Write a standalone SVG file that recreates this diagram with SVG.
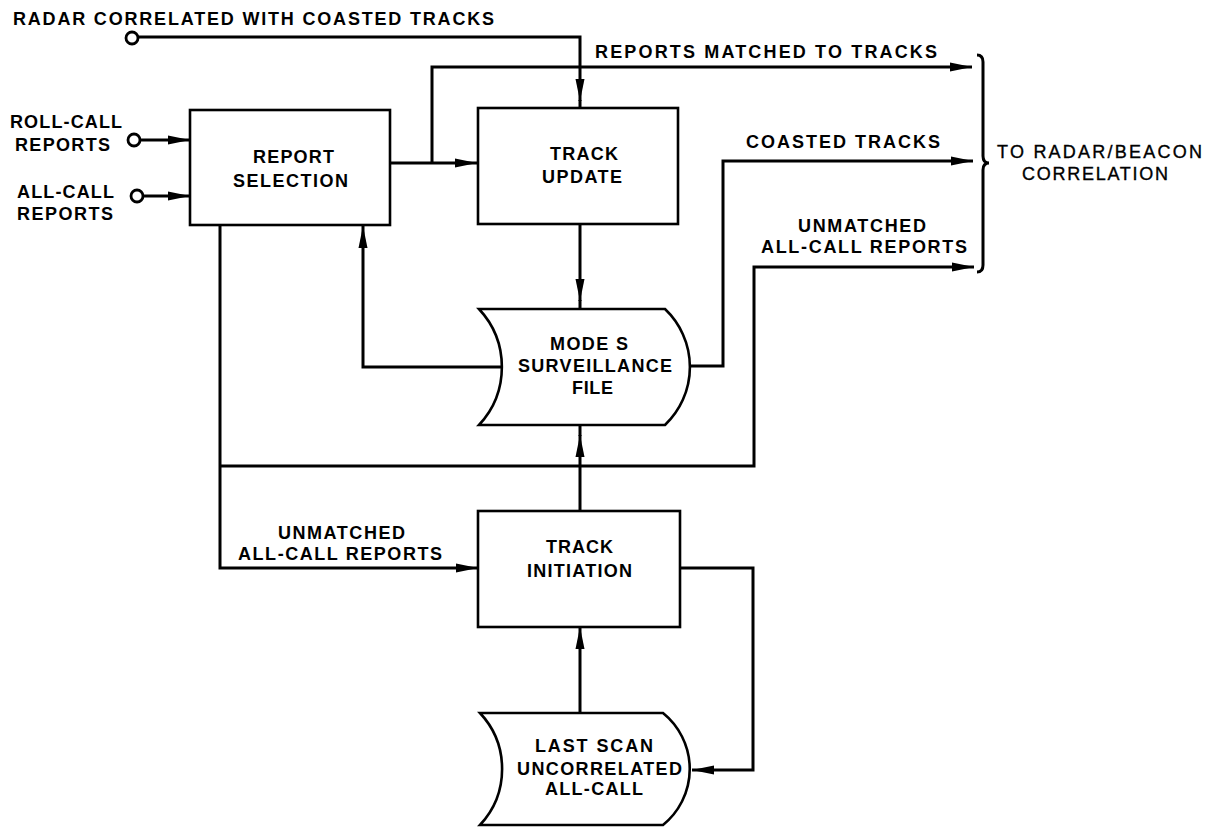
<svg xmlns="http://www.w3.org/2000/svg" width="1216" height="827" viewBox="0 0 1216 827">
<style>
  .bg { fill: #ffffff; }
  .box { fill: #ffffff; stroke: #000; stroke-width: 2.6; }
  .ln { fill: none; stroke: #000; stroke-width: 3; stroke-linejoin: miter; }
  .port { fill: #ffffff; stroke: #000; stroke-width: 2.8; }
  text { font-family: "Liberation Sans", Arial, Helvetica, sans-serif; font-size: 18px; font-weight: bold; fill: #000; }
  text.light { font-weight: normal; stroke: #000; stroke-width: 0.35; }
</style>
<defs>
  <marker id="arr" markerUnits="userSpaceOnUse" markerWidth="23" markerHeight="11" refX="22" refY="5.5" orient="auto">
    <path d="M0,1 L22,5.5 L0,10 Z" fill="#000"/>
  </marker>
</defs>
<rect class="bg" x="0" y="0" width="1216" height="827"/>

<g id="connectors">
  <!-- radar correlated with coasted tracks -->
  <path class="ln" d="M138,37 H580 V101" marker-end="url(#arr)"/>
  <path class="ln" d="M580,100 V108"/>
  <!-- roll-call / all-call inputs -->
  <path class="ln" d="M140,140 H190" marker-end="url(#arr)"/>
  <path class="ln" d="M143,196 H190" marker-end="url(#arr)"/>
  <!-- report selection to track update -->
  <path class="ln" d="M390,163 H477" marker-end="url(#arr)"/>
  <!-- reports matched to tracks -->
  <path class="ln" d="M432,163 V67 H972" marker-end="url(#arr)"/>
  <!-- track update to surveillance file -->
  <path class="ln" d="M580,224 V301" marker-end="url(#arr)"/>
  <path class="ln" d="M580,300 V309"/>
  <!-- surveillance file to report selection -->
  <path class="ln" d="M502,367 H363 V226" marker-end="url(#arr)"/>
  <!-- coasted tracks -->
  <path class="ln" d="M690,366 H723 V161 H973" marker-end="url(#arr)"/>
  <!-- unmatched all-call reports to radar/beacon -->
  <path class="ln" d="M220,466 H754 V267 H974" marker-end="url(#arr)"/>
  <!-- unmatched all-call reports to track initiation -->
  <path class="ln" d="M220,225 V568 H478" marker-end="url(#arr)"/>
  <!-- track initiation to surveillance file -->
  <path class="ln" d="M580,511 V435" marker-end="url(#arr)"/>
  <path class="ln" d="M580,436 V425"/>
  <!-- last scan to track initiation -->
  <path class="ln" d="M580,713 V627" marker-end="url(#arr)"/>
  <!-- track initiation to last scan -->
  <path class="ln" d="M680,568 H753 V770 H692" marker-end="url(#arr)"/>
  <!-- brace -->
  <path class="ln" d="M977,55 Q983,55 983,62 V156 Q983,163 989,163 Q983,163 983,170 V265 Q983,272 977,272" stroke-width="3"/>
</g>

<g id="port-radar">
  <circle class="port" cx="132" cy="38" r="6"/>
  <text x="13" y="25" textLength="481" lengthAdjust="spacing">RADAR CORRELATED WITH COASTED TRACKS</text>
</g>
<g id="port-rollcall">
  <circle class="port" cx="134" cy="140" r="6"/>
  <text x="10" y="128" textLength="112" lengthAdjust="spacing">ROLL-CALL</text>
  <text x="15" y="151" textLength="95" lengthAdjust="spacing">REPORTS</text>
</g>
<g id="port-allcall">
  <circle class="port" cx="137" cy="196" r="6"/>
  <text x="17" y="198" textLength="97" lengthAdjust="spacing">ALL-CALL</text>
  <text x="17" y="220" textLength="96" lengthAdjust="spacing">REPORTS</text>
</g>

<g id="report-selection">
  <rect class="box" x="190" y="110" width="200" height="115"/>
  <text x="253" y="163" textLength="81" lengthAdjust="spacing">REPORT</text>
  <text x="233" y="187" textLength="115" lengthAdjust="spacing">SELECTION</text>
</g>

<g id="track-update">
  <rect class="box" x="478" y="108" width="200" height="116"/>
  <text x="550" y="160" textLength="68" lengthAdjust="spacing">TRACK</text>
  <text x="542" y="183" textLength="80" lengthAdjust="spacing">UPDATE</text>
</g>

<g id="surveillance-file">
  <path class="box" d="M479,309 H665 A80,80 0 0 1 665,425 H479 A85,85 0 0 0 479,309 Z"/>
  <text x="550" y="350" textLength="78" lengthAdjust="spacing">MODE S</text>
  <text x="518" y="372" textLength="154" lengthAdjust="spacing">SURVEILLANCE</text>
  <text x="572" y="394" textLength="41" lengthAdjust="spacing">FILE</text>
</g>

<g id="track-initiation">
  <rect class="box" x="478" y="511" width="202" height="116"/>
  <text x="546" y="553" textLength="67" lengthAdjust="spacing">TRACK</text>
  <text x="527" y="577" textLength="105" lengthAdjust="spacing">INITIATION</text>
</g>

<g id="last-scan">
  <path class="box" d="M480,713 H663 A72,72 0 0 1 663,825 H480 A82,82 0 0 0 480,713 Z"/>
  <text x="535" y="752" textLength="118" lengthAdjust="spacing">LAST SCAN</text>
  <text x="517" y="775" textLength="165" lengthAdjust="spacing">UNCORRELATED</text>
  <text x="545" y="795" textLength="98" lengthAdjust="spacing">ALL-CALL</text>
</g>

<g id="labels">
  <text x="595" y="58" textLength="342" lengthAdjust="spacing">REPORTS MATCHED TO TRACKS</text>
  <text x="746" y="148" textLength="194" lengthAdjust="spacing">COASTED TRACKS</text>
  <text x="798" y="232" textLength="128" lengthAdjust="spacing">UNMATCHED</text>
  <text x="761" y="253" textLength="206" lengthAdjust="spacing">ALL-CALL REPORTS</text>
  <text x="278" y="539" textLength="127" lengthAdjust="spacing">UNMATCHED</text>
  <text x="238" y="560" textLength="204" lengthAdjust="spacing">ALL-CALL REPORTS</text>
</g>

<g id="radar-beacon-correlation">
  <text class="light" x="997" y="158" textLength="205" lengthAdjust="spacing">TO RADAR/BEACON</text>
  <text class="light" x="1022" y="180" textLength="146" lengthAdjust="spacing">CORRELATION</text>
</g>
</svg>
